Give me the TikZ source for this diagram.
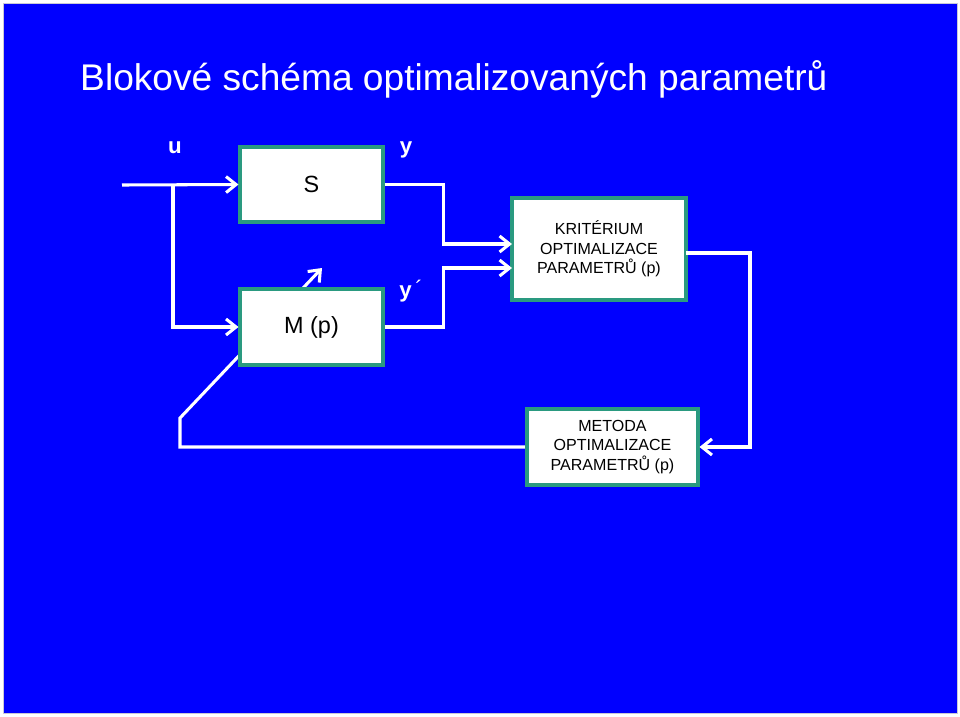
\documentclass[tikz,border=0pt]{standalone}
\usepackage{fontspec}
\setmainfont{Liberation Sans}
\definecolor{slidebg}{HTML}{0000FF}
\definecolor{framecol}{HTML}{2A9A80}
\definecolor{edgecol}{HTML}{C8C8D8}
\usetikzlibrary{arrows.meta,calc}
\pgfdeclarelayer{background}
\pgfsetlayers{background,main}

\begin{document}
\begin{tikzpicture}[x=0.03cm, y=-0.03cm,
  block/.style={draw=framecol, line width=2.6pt, fill=white, text=black,
    font=\fontsize{20}{23}\selectfont, inner sep=0pt},
  bigblock/.style={block, align=center, font=\fontsize{13.7}{16.8}\selectfont},
  sig/.style={draw=white, line width=2.6pt,
    -{Straight Barb[length=3mm, width=4.8mm, line width=2.6pt]}},
  lbl/.style={text=white, font=\fontsize{19}{21}\selectfont\bfseries}]

% === Slide ===
\begin{pgfonlayer}{background}
  \fill[white] (0,0) rectangle (960,716);
  \fill[slidebg, draw=edgecol, line width=0.4pt] (3,3) rectangle (957,713);
\end{pgfonlayer}
\useasboundingbox (0,0) rectangle (960,716);

\node[anchor=base west, inner sep=0pt, text=white, font=\fontsize{31.7}{36}\selectfont]
  (title) at (80,90) {Blokové schéma optimalizovaných parametrů};

% === Blocks ===
\node[block, minimum width=4.29cm, minimum height=2.25cm] (S) at (311.5,184.5) {S};
\node[block, minimum width=4.29cm, minimum height=2.28cm] (M) at (311.5,327) {M (p)};
\node[bigblock, minimum width=5.22cm, minimum height=3.06cm] (krit) at (599,249)
  {KRITÉRIUM\\OPTIMALIZACE\\PARAMETRŮ (p)};
\node[bigblock, minimum width=5.13cm, minimum height=2.28cm] (met) at (612.5,447)
  {METODA\\OPTIMALIZACE\\PARAMETRŮ (p)};

% === Labels ===
\node[lbl] (ulbl) at (175,148) {u};
\node[lbl] (ylbl) at (406,150) {y};
\node[lbl] (ydlbl) at (411,291) {y\,\raisebox{0.15ex}{\normalfont´}};

% === Signals ===
\coordinate (uin) at (122,185);
\coordinate (ubr) at (173,185);
\coordinate (kin1) at (512,244);
\coordinate (kin2) at (512,268);
\coordinate (kout) at (686,253);
\coordinate (pcorner) at (180,418);
\coordinate (ptip) at (322,268);

\draw[sig] (uin) -- (S.west);
\draw[sig] (ubr) |- (M.west);
\draw[sig] (S.east) -- ++(59,0) |- (kin1);
\draw[sig] (M.east) -- ++(59,0) |- (kin2);
\draw[sig] (kout) -- ++(64,0) |- (met.east);

% parameter adjustment through M
\begin{pgfonlayer}{background}
  \draw[sig] (met.west) -| (pcorner) -- (ptip);
\end{pgfonlayer}

\end{tikzpicture}
\end{document}
